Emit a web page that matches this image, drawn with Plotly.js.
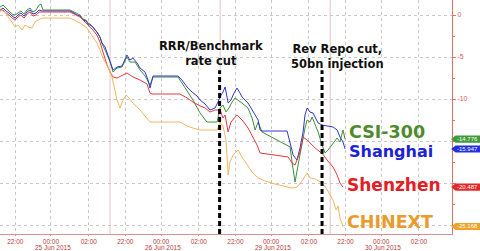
<!DOCTYPE html>
<html>
<head>
<meta charset="utf-8">
<script src="https://cdn.plot.ly/plotly-3.0.1.min.js"></script>
<style>
html,body{margin:0;padding:0;background:#fff;}
#chart{width:480px;height:251px;}
</style>
</head>
<body>
<div id="chart"></div>
<script>
// Trading-timeline hours (non-trading time removed); each session is 6.2 h wide
const dayStarts = [0, 6.2, 12.4, 18.6];
const dayLabels = ['25 Jun 2015', '26 Jun 2015', '29 Jun 2015', '30 Jun 2015'];
const tickOffsets = [0.86, 2.87, 5.0];
const tickTexts = ['22:00', '00:00', '02:00'];

const seriesNames = ['CSI-300', 'Shanghai', 'Shenzhen', 'CHINEXT'];

// % change
const csiX = [0,0.17,0.34,0.51,0.68,0.85,1.01,1.18,1.35,1.52,1.69,1.86,2.03,2.20,2.31,2.42,3.94,4.17,4.34,4.51,4.68,4.85,4.96,5.07,5.24,5.35,5.46,5.63,5.75,5.92,6.08,6.20,6.37,6.59,6.87,7.15,7.32,7.61,7.89,8.17,8.45,8.62,10.03,10.31,10.59,10.87,11.27,11.66,12.23,12.39,12.56,12.73,12.90,13.07,13.24,13.41,13.63,13.97,14.20,14.37,14.54,14.76,16.34,16.45,16.62,16.79,17.01,17.18,17.30,17.46,17.58,17.75,17.92,18.14,18.31,18.48,18.70,18.99,19.15,19.32,19.44];
const csiY = [0.95,1.19,0.83,0.48,0.12,0,0.24,0.48,0.12,0.60,0.83,0.36,0.60,1.19,1.31,0.60,0.60,0.36,0.12,0,-0.48,-0.60,-0.95,-1.07,-1.43,-1.67,-2.02,-2.62,-3.45,-4.17,-5.00,-5.60,-6.79,-6.31,-6.19,-5.00,-5.60,-5.60,-6.55,-7.26,-8.33,-7.38,-7.38,-8.33,-9.17,-10.12,-11.67,-12.74,-12.74,-11.07,-10.71,-11.55,-11.07,-10.36,-9.88,-10.12,-10.48,-11.07,-12.26,-13.69,-12.74,-13.93,-15.71,-17.50,-19.88,-17.86,-15.12,-13.45,-12.50,-12.74,-12.14,-13.10,-13.93,-15.48,-16.43,-16.07,-15.48,-14.64,-15.12,-13.69,-14.776];

const shX = [0,0.17,0.34,0.51,0.68,0.85,1.01,1.18,1.35,1.52,1.69,1.86,2.03,2.20,2.37,3.94,4.17,4.34,4.51,4.68,4.85,4.96,5.07,5.24,5.35,5.46,5.63,5.75,5.92,6.08,6.20,6.37,6.59,6.87,7.15,7.32,7.49,7.72,7.89,8.17,8.34,8.45,8.62,10.03,10.25,10.54,10.82,11.10,11.27,11.55,11.83,12.11,12.28,12.39,12.56,12.68,12.85,13.01,13.18,13.35,13.52,13.63,13.80,13.97,14.14,14.37,14.54,14.65,14.76,16.17,16.34,16.51,16.73,16.90,17.07,17.18,17.30,17.46,17.63,17.75,17.92,18.14,18.76,18.99,19.15,19.32,19.44];
const shY = [0.60,0.83,0.48,0.24,-0.12,-0.36,0,0.24,-0.12,0.36,0.60,0.12,0.24,0.60,0.48,0.48,0.24,0,-0.12,-0.60,-0.71,-1.07,-1.19,-1.43,-1.79,-2.02,-2.62,-3.33,-3.81,-4.76,-5.36,-6.55,-6.19,-6.07,-4.76,-5.36,-5.12,-5.71,-6.31,-6.79,-7.74,-8.69,-7.26,-7.26,-7.74,-8.57,-9.17,-9.64,-10.12,-10.60,-11.31,-11.07,-10.36,-9.76,-9.17,-8.57,-10.48,-10.12,-9.29,-8.69,-9.29,-9.76,-10.12,-10.48,-11.07,-11.90,-12.50,-13.69,-13.81,-13.81,-15.12,-16.67,-17.26,-15.83,-13.93,-11.90,-11.07,-11.55,-11.67,-12.14,-12.86,-13.10,-13.33,-13.69,-14.52,-15.12,-15.947];

const szX = [0,0.17,0.34,0.51,0.68,0.85,1.01,1.18,1.35,1.52,1.69,1.86,2.03,2.20,2.37,3.94,4.51,4.96,5.24,5.46,5.63,5.80,6.03,6.20,6.37,6.59,6.93,7.15,7.49,7.89,8.28,8.45,8.56,10.14,10.54,10.87,11.27,11.55,11.83,12.11,12.39,12.56,12.68,12.85,13.01,13.18,13.35,13.52,13.69,13.97,14.25,14.48,14.65,16.23,16.45,16.62,16.90,17.07,17.30,17.58,17.75,18.03,18.14,18.42,18.76,18.99,19.15,19.32];
const szY = [0.48,0.60,0.24,0,-0.36,-0.60,-0.24,0,-0.36,0.12,0.36,-0.12,0,0.36,0.36,0.36,-0.24,-1.19,-1.79,-2.38,-3.21,-4.40,-5.95,-6.79,-7.38,-7.50,-7.14,-6.90,-7.38,-7.74,-8.21,-9.29,-9.40,-9.40,-9.88,-10.36,-10.83,-11.07,-11.55,-11.31,-11.31,-12.26,-11.90,-13.93,-12.74,-12.26,-11.90,-12.26,-12.62,-13.45,-14.52,-15.48,-16.43,-16.90,-17.62,-17.86,-16.31,-14.52,-14.88,-15.48,-15.83,-16.31,-16.43,-17.26,-18.10,-19.05,-20.00,-20.487];

const cnX = [0,0.28,0.51,0.68,0.85,1.01,1.24,1.41,1.58,1.80,1.97,2.14,2.37,3.94,4.51,4.90,5.07,5.24,5.46,5.63,5.80,6.08,6.31,6.59,6.76,6.93,7.10,7.27,7.49,7.89,8.28,8.45,10.14,10.54,10.87,11.27,12.23,12.39,12.56,12.73,12.85,12.96,13.13,13.30,13.41,13.63,13.92,14.20,14.54,14.93,15.49,16.06,16.45,16.73,17.01,17.30,17.46,17.75,18.14,18.37,18.59,18.76,18.93,19.04,19.15,19.32];
const cnY = [0.60,0.36,-0.36,-0.83,-1.43,-1.19,-1.79,-1.19,-1.43,-1.55,-0.83,-0.60,-0.36,-0.36,-0.95,-1.55,-2.14,-2.62,-3.33,-4.17,-5.12,-6.19,-7.38,-10.12,-11.07,-10.12,-9.52,-9.88,-10.48,-11.31,-12.26,-12.74,-12.74,-13.21,-13.45,-13.69,-13.69,-12.74,-13.21,-14.88,-19.05,-17.50,-16.67,-16.31,-16.07,-16.90,-17.86,-18.69,-19.40,-19.76,-20.12,-20.36,-20.60,-20.48,-19.76,-18.81,-19.40,-19.52,-20.00,-20.60,-21.43,-22.02,-23.21,-22.74,-24.17,-25.168];

const lineColors = ['#3f8f3a', '#3038c8', '#e23a44', '#f2b560'];
const textColors = ['#4f8a2c', '#1c22d6', '#e41e26', '#eb9a2c'];
const boxColors = ['#3f9a3a', '#2030e0', '#e42828', '#eda228'];

const eventX = [12.37, 18.14];
const eventText = ['RRR/Benchmark<br>rate cut', 'Rev Repo cut,<br>50bn injection'];

const yTicks = [0, -5, -10, -15, -20, -25];
// tick labels hidden behind the last-value boxes in the reference
const yTickHidden = [-15, -20, -25];

const xs = [csiX, shX, szX, cnX];
const ys = [csiY, shY, szY, cnY];

const traces = seriesNames.map((n, i) => ({
  type: 'scatter', mode: 'lines', name: n,
  x: xs[i], y: ys[i],
  line: {color: lineColors[i], width: 1},
  hoverinfo: 'skip'
}));

const tickvals = [], ticktext = [];
dayStarts.forEach(d => tickOffsets.forEach((o, k) => { tickvals.push(d + o); ticktext.push(tickTexts[k]); }));

const shapes = [];
dayStarts.slice(1).forEach(d => shapes.push({
  type: 'line', xref: 'x', yref: 'paper', x0: d, x1: d, y0: 0, y1: 1,
  line: {color: '#e6c4c4', width: 1}, layer: 'below'
}));
eventX.forEach(x => shapes.push({
  type: 'line', xref: 'x', yref: 'paper', x0: x, x1: x, y0: 0, y1: 0.70,
  line: {color: '#000', width: 3, dash: '5px,3px'}
}));

const annotations = [];
dayLabels.forEach((t, i) => annotations.push({
  x: dayStarts[i] + tickOffsets[1] + 0.1, xref: 'x', y: 0, yref: 'paper', yshift: -13,
  text: t, showarrow: false, xanchor: 'center', yanchor: 'middle', borderpad: 0,
  font: {family: 'Liberation Sans, Arial', size: 6.5, color: '#b84040'}
}));
annotations.push({x: eventX[0] - 0.5, y: -4.6, xref: 'x', yref: 'y', text: eventText[0], showarrow: false,
  font: {family: 'DejaVu Sans', size: 11.5, color: '#111', weight: 'bold'}, align: 'center'});
annotations.push({x: eventX[1] + 0.85, y: -4.9, xref: 'x', yref: 'y', text: eventText[1], showarrow: false,
  font: {family: 'DejaVu Sans', size: 11.5, color: '#111', weight: 'bold'}, align: 'center'});

const labelShift = [7, -3, 2, 4];
const labelSize = [17.5, 16, 17, 17.5];
seriesNames.forEach((n, i) => {
  const last = ys[i][ys[i].length - 1];
  const lastX = xs[i][xs[i].length - 1];
  annotations.push({x: lastX + 0.1, y: last, xref: 'x', yref: 'y', yshift: labelShift[i],
    text: '<b>' + n + '</b>', showarrow: false, xanchor: 'left', yanchor: 'middle',
    font: {family: 'DejaVu Sans', size: labelSize[i], color: textColors[i]}});
  const h = 0.42;
  shapes.push({type: 'path', xref: 'paper', yref: 'y',
    path: `M 0.998 ${last} L 1.008 ${last + h} L 1.07 ${last + h} L 1.07 ${last - h} L 1.008 ${last - h} Z`,
    fillcolor: boxColors[i], line: {width: 0}, layer: 'above'});
  annotations.push({x: 1.035, xref: 'paper', y: last, yref: 'y', text: last.toFixed(3),
    showarrow: false, xanchor: 'center', yanchor: 'middle', borderpad: 0,
    font: {family: 'Liberation Sans, Arial', size: 6, color: '#ffffff'}});
});

const layout = {
  width: 480, height: 251,
  margin: {l: 0, r: 28, t: 0, b: 17, pad: 0},
  paper_bgcolor: '#ffffff', plot_bgcolor: '#ffffff',
  showlegend: false,
  xaxis: {
    range: [0, 25.46], tickvals: tickvals, ticktext: ticktext,
    showgrid: true, gridcolor: '#c8c8c8', griddash: 'dot', gridwidth: 1,
    showline: true, linecolor: '#d89090', linewidth: 1,
    ticks: 'outside', ticklen: 1, tickcolor: '#d89090',
    tickfont: {family: 'Liberation Sans, Arial', size: 6.5, color: '#b84040'},
    zeroline: false, fixedrange: true
  },
  yaxis: {
    side: 'right', range: [-26.07, 1.79], tickvals: yTicks,
    ticktext: yTicks.map(v => yTickHidden.includes(v) ? '' : String(v)),
    showgrid: true, gridcolor: '#c8c8c8', griddash: 'dot', gridwidth: 1,
    showline: true, linecolor: '#e07070', linewidth: 1,
    ticks: 'outside', ticklen: 3, tickcolor: '#e07070',
    minor: {dtick: 2.5, tick0: 0, ticks: 'outside', ticklen: 2, tickcolor: '#e07070', showgrid: false},
    tickfont: {family: 'Liberation Sans, Arial', size: 7, color: '#e05a5a'},
    zeroline: false, fixedrange: true
  },
  shapes: shapes,
  annotations: annotations
};

Plotly.newPlot('chart', traces, layout, {staticPlot: true, displayModeBar: false});
</script>
</body>
</html>
